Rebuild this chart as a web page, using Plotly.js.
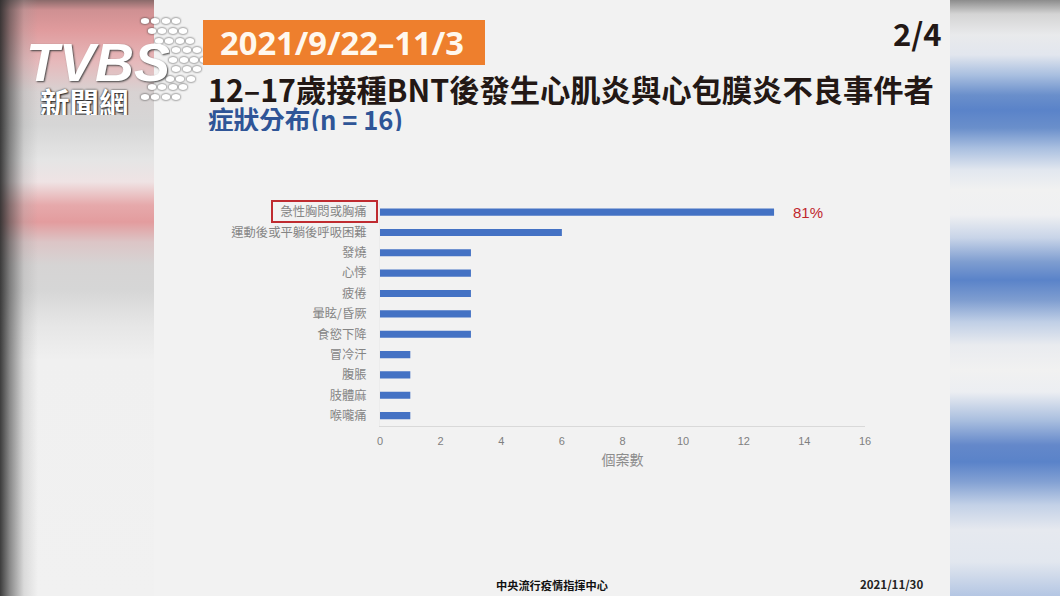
<!DOCTYPE html>
<html>
<head>
<meta charset="utf-8">
<script src="https://cdn.plot.ly/plotly-3.0.1.min.js"></script>
<style>
html,body{margin:0;padding:0;width:1060px;height:596px;overflow:hidden;background:#f2f2f2}
#left{position:absolute;left:0;top:0;width:154px;height:596px;
background:linear-gradient(to right,rgba(45,45,45,.92) 0,rgba(70,70,70,.6) 10px,rgba(150,150,150,.25) 24px,rgba(240,240,240,0) 38px),
linear-gradient(to bottom,#8a6a6a 0,#cf9092 10px,#e09b9d 30px,#e6b9bb 62px,#d8d2d2 92px,#d6d6d6 125px,#e5e5e5 160px,#efe3e4 182px,#e6a9ab 205px,#e39c9e 222px,#dcc5c6 242px,#d6d4d4 265px,#d6d6d6 290px,#e6e6e6 325px,#f0f0f0 360px,#f1f1f1 596px)}
#right{position:absolute;left:950px;top:0;width:110px;height:596px;
background:linear-gradient(to bottom,#8c8c8c 0,#d4d4d4 14px,#e9eaec 35px,#e2e6ee 55px,#a9bfe0 75px,#6a8fcb 95px,#5a83c9 110px,#6a8fcb 128px,#a9bfe0 148px,#e2e7ef 170px,#f1f1f1 190px,#eff0f2 215px,#c8d4e8 238px,#7e9dd0 262px,#5a83c9 280px,#7e9dd0 300px,#c0cfe6 322px,#e9ebef 345px,#f1f1f1 370px,#eceef2 392px,#aabfdf 420px,#6488ca 445px,#5a83c9 462px,#83a1d3 482px,#c3d1e7 505px,#e6e9ef 530px,#e2e7ef 562px,#b4c6e3 596px)}
#dots{position:absolute;left:0;top:0}
#dots ellipse{filter:drop-shadow(0 0 1.2px #333)}
#chart{position:absolute;left:0;top:0;width:1060px;height:596px}
</style>
</head>
<body>
<div id="left"></div>
<div id="right"></div>
<svg id="dots" width="1060" height="596"></svg>
<div id="chart"></div>
<script>
// Chart data
var symptoms = ['急性胸悶或胸痛','運動後或平躺後呼吸困難','發燒','心悸','疲倦','暈眩/昏厥','食慾下降','冒冷汗','腹脹','肢體麻','喉嚨痛'];
var caseCounts = [13,6,3,3,3,3,3,1,1,1,1];
var xTicks = [0,2,4,6,8,10,12,14,16];
var highlightLabel = '81%';
var xAxisTitle = '個案數';

// Slide text
var dateText = '2021/9/22–11/3';
var pageText = '2/4';
var titleText = '12–17歲接種BNT後發生心肌炎與心包膜炎不良事件者';
var subtitleText = '症狀分布(n = 16)';
var sourceText = '中央流行疫情指揮中心';
var slideDate = '2021/11/30';

// Logo decoration (broadcaster mark, not chart data)
var logoRows = [[21,[145,155,166,176]],[31,[152,162,173,183]],[41,[159,169,180,190]],[50,[176,187,197]],[60,[173,184,194,204]],[69,[176,187,197]],[79,[170,180,191]],[87,[152,162,173,183]],[97,[145,155,166,176]]];
var svg = document.getElementById('dots'), NS = 'http://www.w3.org/2000/svg';
logoRows.forEach(function(r){ r[1].forEach(function(cx){
  var e = document.createElementNS(NS,'ellipse');
  e.setAttribute('cx',cx); e.setAttribute('cy',r[0]); e.setAttribute('rx',4.2); e.setAttribute('ry',3);
  e.setAttribute('fill','#ffffff');
  svg.appendChild(e);
});});

var W = 1060, H = 596;
function px(x){return x/W;}
function py(y){return 1-y/H;}
var CJK = '"Noto Sans CJK TC","Noto Sans",sans-serif';
function label(text,x,y,size,color,weight,extra){
  var a = {text:text,xref:'paper',yref:'paper',x:px(x),y:py(y),xanchor:'left',yanchor:'middle',showarrow:false,
    font:{family:CJK,size:size,color:color,weight:weight||400}};
  for(var k in (extra||{})){ if(k==='font'){ for(var f in extra.font) a.font[f]=extra.font[f]; } else a[k]=extra[k]; }
  return a;
}

var traces = [{type:'bar',orientation:'h',y:symptoms,x:caseCounts,marker:{color:'#4472c4'},hoverinfo:'x+y'}];

var layout = {
  width:W,height:H,margin:{l:0,r:0,t:0,b:0},
  paper_bgcolor:'rgba(0,0,0,0)',plot_bgcolor:'rgba(0,0,0,0)',
  showlegend:false,bargap:0.65,
  xaxis:{domain:[px(380),px(865)],range:[0,16],tickvals:xTicks,ticks:'',showgrid:false,zeroline:false,
    showline:true,linecolor:'#d9d9d9',linewidth:1,ticklabelstandoff:5,
    tickfont:{family:'"Liberation Sans",sans-serif',size:11,color:'#7f7f7f'},
    title:{text:xAxisTitle,standoff:9,font:{family:CJK,size:14,color:'#8c8c8c'}}},
  yaxis:{domain:[py(425.8),py(201.6)],type:'category',categoryorder:'array',categoryarray:symptoms,autorange:'reversed',
    ticks:'outside',ticklen:10,tickcolor:'rgba(0,0,0,0)',showgrid:false,zeroline:false,
    showline:true,linecolor:'#ececec',linewidth:1,
    tickfont:{family:CJK,size:12.3,color:'#858585'}},
  shapes:[
    {type:'rect',xref:'paper',yref:'paper',x0:px(203),x1:px(485),y0:py(20),y1:py(65),fillcolor:'#ee7f2d',line:{width:0},layer:'below'},
    {type:'rect',xref:'paper',yref:'paper',x0:px(272),x1:px(377),y0:py(201),y1:py(222),fillcolor:'rgba(0,0,0,0)',line:{color:'#bf2b30',width:2}}
  ],
  annotations:[
    label(dateText,218,43,32.7,'#fff8ee',700,{font:{family:'"Noto Sans","Noto Sans CJK TC",sans-serif'}}),
    label(pageText,891,33,31,'#231815',700),
    label(titleText,206,89,30.3,'#231815',700,{height:32}),
    label(subtitleText,206,118,25.6,'#2f5597',700,{height:26}),
    label(sourceText,494,585,11.2,'#111',700),
    label(slideDate,858,584,11.5,'#222',700),
    {text:highlightLabel,xref:'x',yref:'y',x:13.55,y:symptoms[0],xanchor:'left',yanchor:'middle',showarrow:false,
      font:{family:'"Liberation Sans",sans-serif',size:15,color:'#c0272d'}},
    label('TVBS',24,62,54,'#ffffff',700,{height:46,font:{family:'"Liberation Sans",sans-serif',style:'italic',shadow:'1px 1px 2px #444'}}),
    label('新聞網',38,101,29.5,'#ffffff',700,{height:28,font:{shadow:'0 0 2px #222, 1px 1px 2px #222'}})
  ]
};
Plotly.newPlot('chart',traces,layout,{displayModeBar:false,staticPlot:true});
</script>
</body>
</html>
